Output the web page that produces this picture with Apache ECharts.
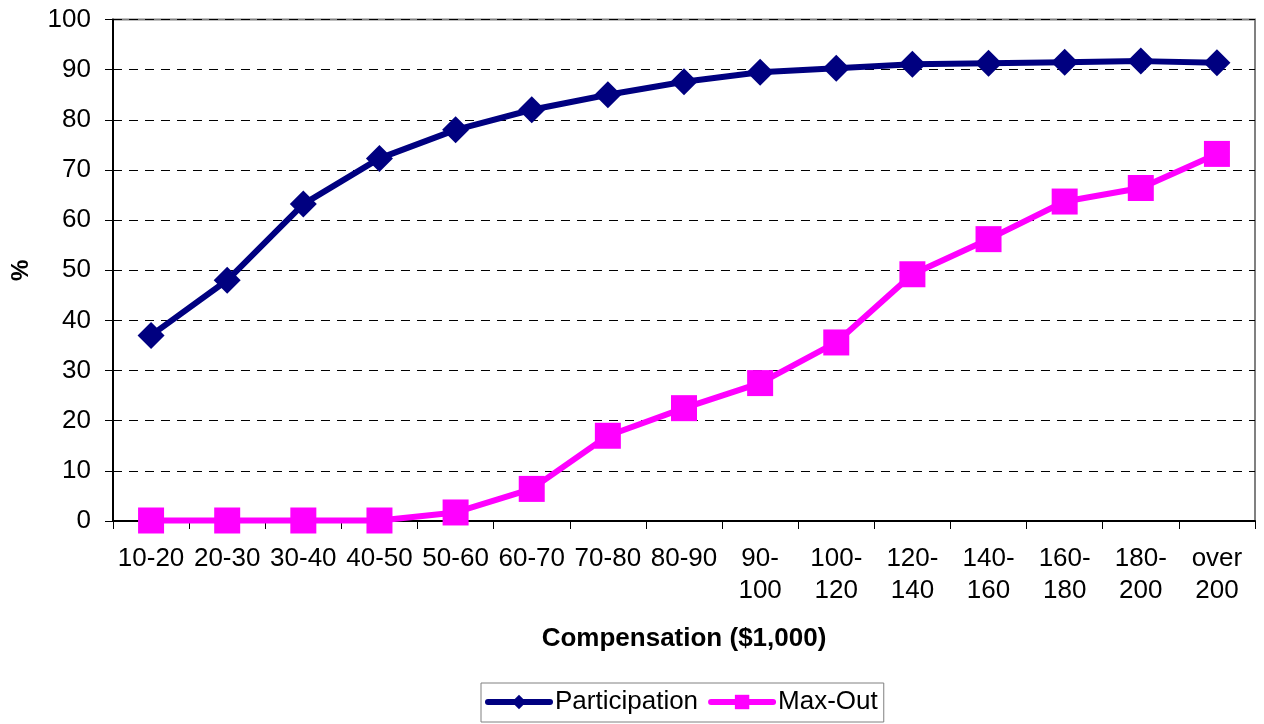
<!DOCTYPE html>
<html>
<head>
<meta charset="utf-8">
<script src="https://cdn.jsdelivr.net/npm/echarts@6/dist/echarts.min.js"></script>
<style>
html,body{margin:0;padding:0;background:#fff;}
#chart{width:1264px;height:724px;}
</style>
</head>
<body>
<div id="chart"></div>
<script>
const categories = ['10-20','20-30','30-40','40-50','50-60','60-70','70-80','80-90','90-100','100-120','120-140','140-160','160-180','180-200','over 200'];
const participation = [37.0, 48.0, 63.2, 72.3, 78.0, 82.0, 85.0, 87.6, 89.5, 90.3, 91.1, 91.3, 91.5, 91.7, 91.4];
const maxOut = [0.1, 0.1, 0.1, 0.1, 1.7, 6.4, 17.0, 22.5, 27.5, 35.6, 49.2, 56.2, 63.7, 66.4, 73.2];
const yTicks = {min: 0, max: 100, interval: 10};
const FONT = 'Liberation Sans, Arial, sans-serif';

const chart = echarts.init(document.getElementById('chart'), null, {renderer: 'canvas'});
chart.setOption({
  animation: false,
  backgroundColor: '#fff',
  grid: {left: 113, right: 9, top: 19.5, bottom: 203, show: true, borderColor: '#808080', borderWidth: 2, backgroundColor: 'transparent'},
  legend: {
    left: 481, top: 683,
    borderColor: '#808080', borderWidth: 1,
    padding: [6, 6, 7, 4],
    itemGap: 10, itemWidth: 62, itemHeight: 18,
    lineStyle: {width: 6, cap: 'round'},
    textStyle: {fontFamily: FONT, fontSize: 26, color: '#000'},
    data: ['Participation', 'Max-Out']
  },
  xAxis: {
    type: 'category',
    data: categories,
    boundaryGap: true,
    name: 'Compensation ($1,000)',
    nameLocation: 'middle',
    nameGap: 105,
    nameTextStyle: {fontFamily: FONT, fontSize: 26, fontWeight: 'bold', color: '#000'},
    axisLine: {lineStyle: {color: '#000', width: 2}},
    axisTick: {show: true, length: 8, lineStyle: {color: '#000'}},
    axisLabel: {
      fontFamily: FONT, fontSize: 26, color: '#000', margin: 22, lineHeight: 32, interval: 0,
      formatter: v => v.length > 5 ? v.replace(' ', '\n').replace(/-(?=\d)/, '-\n') : v
    },
    splitLine: {show: false}
  },
  yAxis: {
    type: 'value',
    min: yTicks.min, max: yTicks.max, interval: yTicks.interval,
    name: '%',
    nameLocation: 'middle',
    nameGap: 80,
    nameRotate: 90,
    nameTextStyle: {fontFamily: FONT, fontSize: 24, fontWeight: 'bold', color: '#000'},
    axisLine: {show: true, lineStyle: {color: '#000', width: 2}},
    axisTick: {show: true, length: 8, lineStyle: {color: '#000'}},
    axisLabel: {fontFamily: FONT, fontSize: 26, color: '#000', margin: 22},
    splitLine: {show: true, lineStyle: {color: '#000', width: 1, type: [9, 7]}}
  },
  series: [
    {
      name: 'Participation', type: 'line', data: participation,
      symbol: 'diamond', symbolSize: [27, 27],
      lineStyle: {color: '#000080', width: 6},
      itemStyle: {color: '#000080', borderWidth: 0},
      z: 3
    },
    {
      name: 'Max-Out', type: 'line', data: maxOut,
      symbol: 'rect', symbolSize: [26, 26],
      lineStyle: {color: '#FF00FF', width: 6},
      itemStyle: {color: '#FF00FF', borderWidth: 0},
      z: 4
    }
  ]
});
</script>
</body>
</html>
